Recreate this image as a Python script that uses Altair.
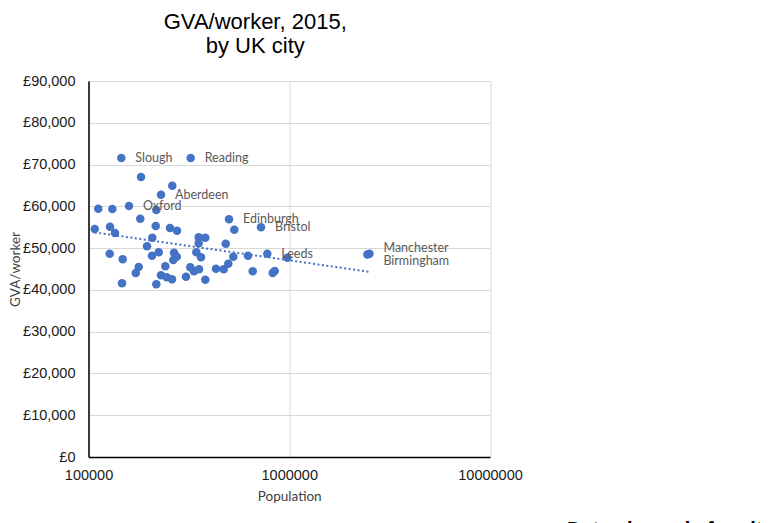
import altair as alt
import pandas as pd

# population (log x) and GVA per worker (y) per city
population = [
    145700, 322800, 182600, 261500, 229700, 111900, 131400, 159100, 217700, 181100,
    107400, 128000, 135500, 216200, 254700, 276000, 207900, 195600, 354000, 381800,
    354000, 482600, 501000, 532500, 723400, 127500, 148000, 207200, 223800, 266700,
    275100, 264600, 344400, 363500, 526400, 623000, 777500, 978000, 177900, 171900,
    241300, 321400, 335400, 355100, 431600, 471600, 497000, 229700, 245200, 260600,
    305900, 381800, 657600, 827000, 846200, 146900, 217700, 2510000, 2450000,
]
gva = [
    71580, 71580, 67030, 64950, 62790, 59440, 59370, 60090, 59130, 57050,
    54580, 55130, 53630, 55300, 54820, 54170, 52500, 50440, 52600, 52500,
    51160, 51060, 56910, 54420, 54990, 48670, 47330, 48190, 49010, 48910,
    47950, 47160, 49010, 47810, 47950, 48190, 48670, 47710, 45490, 44050,
    45650, 45410, 44460, 44940, 45080, 44940, 46280, 43500, 43020, 42540,
    43160, 42450, 44460, 44050, 44530, 41580, 41340, 48650, 48450,
]
city = [
    "Slough", "Reading", "", "", "Aberdeen", "", "", "Oxford", "", "",
    "", "", "", "", "", "", "", "", "", "",
    "", "", "Edinburgh", "", "Bristol", "", "", "", "", "",
    "", "", "", "", "", "", "Leeds", "", "", "",
    "", "", "", "", "", "", "", "", "", "",
    "", "", "", "", "", "", "", "Manchester", "Birmingham",
]

# logarithmic trendline end points
trend_pop = [107400, 2480000]
trend_gva = [53750, 44360]

x_ticks = [100000, 1000000, 10000000]
y_ticks = [0, 10000, 20000, 30000, 40000, 50000, 60000, 70000, 80000, 90000]

df = pd.DataFrame({"Population": population, "GVA": gva, "City": city})
trend = pd.DataFrame({"Population": trend_pop, "GVA": trend_gva})

blue = "#4472C4"

x_enc = alt.X(
    "Population:Q",
    scale=alt.Scale(type="log", domain=[100000, 10000000], nice=False),
    axis=alt.Axis(
        values=x_ticks,
        format="d",
        title="Population",
        labelFlush=False,
        labelOverlap=False,
        labelPadding=11,
        titlePadding=8,
        ticks=False,
    ),
)
y_enc = alt.Y(
    "GVA:Q",
    scale=alt.Scale(domain=[0, 90000], nice=False),
    axis=alt.Axis(
        values=y_ticks,
        labelExpr="'£' + format(datum.value, ',')",
        title="GVA/worker",
        labelPadding=13.5,
        titlePadding=0,
        ticks=False,
    ),
)

points = alt.Chart(df).mark_circle(size=72, color=blue, opacity=1).encode(x=x_enc, y=y_enc)

trend_line = (
    alt.Chart(trend)
    .mark_line(color=blue, strokeWidth=2, strokeDash=[2, 2.5])
    .encode(x=x_enc, y=y_enc)
)

label_style = dict(align="left", baseline="middle", font="Lato", fontSize=12.5, color="#595959")

labels = (
    alt.Chart(df)
    .transform_filter("datum.City != '' && datum.City != 'Manchester' && datum.City != 'Birmingham'")
    .mark_text(dx=14, **label_style)
    .encode(x=x_enc, y=y_enc, text="City:N")
)
label_man = (
    alt.Chart(df)
    .transform_filter("datum.City == 'Manchester'")
    .mark_text(dx=14, dy=-6, **label_style)
    .encode(x=x_enc, y=y_enc, text="City:N")
)
label_bir = (
    alt.Chart(df)
    .transform_filter("datum.City == 'Birmingham'")
    .mark_text(dx=16, dy=6, **label_style)
    .encode(x=x_enc, y=y_enc, text="City:N")
)

# note under the chart, mostly cut off by the window edge
note = (
    alt.Chart(pd.DataFrame({"t": ["Data shown is for cities"]}))
    .mark_text(align="left", baseline="top", font="Liberation Sans", fontSize=20, fontWeight="bold", color="black")
    .encode(x=alt.value(478.5), y=alt.value(438.5), text="t:N")
)

chart = (
    (points + trend_line + labels + label_man + label_bir + note)
    .properties(
        width=401.5,
        height=376,
        autosize=alt.AutoSizeParams(type="none"),
        padding={"left": 80.5, "top": 73, "right": 270, "bottom": 66},
        background="white",
        title=alt.TitleParams(
            text=["GVA/worker, 2015,", "by UK city"],
            font="Liberation Sans",
            fontSize=22,
            fontWeight="normal",
            color="black",
            lineHeight=24,
            anchor="middle",
            frame="group",
            dx=-34,
            offset=15,
        ),
    )
    .configure_axis(
        labelFont="Liberation Sans",
        labelFontSize=14.5,
        labelColor="#1a1a1a",
        titleFont="Lato",
        titleFontSize=13.5,
        titleFontWeight="normal",
        titleColor="#404040",
        gridColor="#D9D9D9",
        gridWidth=1,
        domainColor="black",
        domainWidth=1.5,
    )
    .configure_view(strokeWidth=0)
)

chart.save("out.html", embed_options={"renderer": "svg", "actions": False})
